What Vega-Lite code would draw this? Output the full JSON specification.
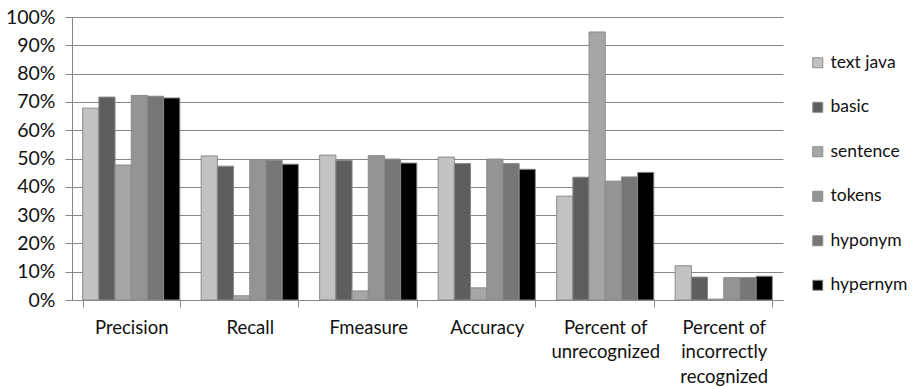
{
  "$schema": "https://vega.github.io/schema/vega-lite/v6.json",
  "width": 711,
  "height": 283,
  "autosize": "none",
  "padding": {"left": 72, "top": 17, "right": 130, "bottom": 87},
  "background": "white",
  "config": {
    "font": "Lato",
    "view": {"stroke": null},
    "axis": {"labelColor": "#111111", "domainColor": "#868686", "tickColor": "#868686", "gridColor": "#868686", "labelFont": "Lato"}
  },
  "data": {
    "values": [
      {"metric": "Precision", "method": "text java", "value": 0.678},
      {"metric": "Precision", "method": "basic", "value": 0.717},
      {"metric": "Precision", "method": "sentence", "value": 0.477},
      {"metric": "Precision", "method": "tokens", "value": 0.723},
      {"metric": "Precision", "method": "hyponym", "value": 0.72},
      {"metric": "Precision", "method": "hypernym", "value": 0.714},
      {"metric": "Recall", "method": "text java", "value": 0.509},
      {"metric": "Recall", "method": "basic", "value": 0.473},
      {"metric": "Recall", "method": "sentence", "value": 0.015},
      {"metric": "Recall", "method": "tokens", "value": 0.496},
      {"metric": "Recall", "method": "hyponym", "value": 0.493},
      {"metric": "Recall", "method": "hypernym", "value": 0.48},
      {"metric": "Fmeasure", "method": "text java", "value": 0.512},
      {"metric": "Fmeasure", "method": "basic", "value": 0.494},
      {"metric": "Fmeasure", "method": "sentence", "value": 0.032},
      {"metric": "Fmeasure", "method": "tokens", "value": 0.51},
      {"metric": "Fmeasure", "method": "hyponym", "value": 0.498},
      {"metric": "Fmeasure", "method": "hypernym", "value": 0.484},
      {"metric": "Accuracy", "method": "text java", "value": 0.505},
      {"metric": "Accuracy", "method": "basic", "value": 0.482},
      {"metric": "Accuracy", "method": "sentence", "value": 0.043},
      {"metric": "Accuracy", "method": "tokens", "value": 0.498},
      {"metric": "Accuracy", "method": "hyponym", "value": 0.482},
      {"metric": "Accuracy", "method": "hypernym", "value": 0.462},
      {"metric": "Percent of unrecognized", "method": "text java", "value": 0.367},
      {"metric": "Percent of unrecognized", "method": "basic", "value": 0.434},
      {"metric": "Percent of unrecognized", "method": "sentence", "value": 0.947},
      {"metric": "Percent of unrecognized", "method": "tokens", "value": 0.42},
      {"metric": "Percent of unrecognized", "method": "hyponym", "value": 0.435},
      {"metric": "Percent of unrecognized", "method": "hypernym", "value": 0.451},
      {"metric": "Percent of incorrectly recognized", "method": "text java", "value": 0.121},
      {"metric": "Percent of incorrectly recognized", "method": "basic", "value": 0.081},
      {"metric": "Percent of incorrectly recognized", "method": "sentence", "value": 0.003},
      {"metric": "Percent of incorrectly recognized", "method": "tokens", "value": 0.079},
      {"metric": "Percent of incorrectly recognized", "method": "hyponym", "value": 0.079},
      {"metric": "Percent of incorrectly recognized", "method": "hypernym", "value": 0.084}
    ]
  },
  "mark": {"type": "bar", "stroke": "#8a8a8a", "strokeWidth": 1},
  "encoding": {
    "x": {
      "field": "metric",
      "type": "nominal",
      "sort": ["Precision", "Recall", "Fmeasure", "Accuracy", "Percent of unrecognized", "Percent of incorrectly recognized"],
      "scale": {"paddingInner": 0.18, "paddingOuter": 0.09},
      "axis": {
        "title": null,
        "labelAngle": 0,
        "labelExpr": "datum.value == 'Percent of unrecognized' ? ['Percent of', 'unrecognized'] : datum.value == 'Percent of incorrectly recognized' ? ['Percent of', 'incorrectly', 'recognized'] : datum.value",
        "tickBand": "extent",
        "tickSize": 7,
        "labelPadding": 20,
        "labelLineHeight": 24.5,
        "labelBaseline": "middle",
        "labelFontSize": 18.5
      }
    },
    "xOffset": {
      "field": "method",
      "type": "nominal",
      "sort": ["text java", "basic", "sentence", "tokens", "hyponym", "hypernym"]
    },
    "y": {
      "field": "value",
      "type": "quantitative",
      "scale": {"domain": [0, 1]},
      "axis": {
        "title": null,
        "format": ".0%",
        "values": [0, 0.1, 0.2, 0.3, 0.4, 0.5, 0.6, 0.7, 0.8, 0.9, 1],
        "grid": true,
        "tickSize": 7,
        "labelPadding": 10,
        "labelFontSize": 19.5
      }
    },
    "fill": {
      "field": "method",
      "type": "nominal",
      "scale": {
        "domain": ["text java", "basic", "sentence", "tokens", "hyponym", "hypernym"],
        "range": ["#c2c2c2", "#5e5e5e", "#a6a6a6", "#949494", "#767676", "#000000"]
      },
      "legend": {
        "title": null,
        "orient": "none",
        "legendX": 737,
        "legendY": 37,
        "symbolType": "square",
        "symbolSize": 100,
        "symbolStrokeColor": "#8a8a8a",
        "symbolStrokeWidth": 1,
        "labelFontSize": 17.5,
        "labelColor": "#111111",
        "labelOffset": 4,
        "rowPadding": 25.5
      }
    }
  }
}
